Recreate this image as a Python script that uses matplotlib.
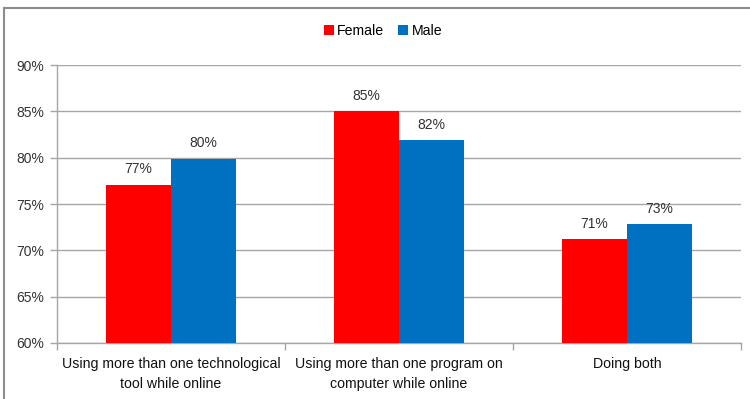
import matplotlib
matplotlib.use("Agg")
import matplotlib.pyplot as plt
from matplotlib.lines import Line2D
from matplotlib.ticker import FixedLocator, FuncFormatter

plt.rcParams['font.family'] = ['Liberation Sans', 'DejaVu Sans']

categories = ["Using more than one technological\ntool while online",
              "Using more than one program on\ncomputer while online",
              "Doing both"]
female = [77.1, 85.0, 71.2]
male = [79.9, 81.9, 72.8]
female_labels = ["77%", "85%", "71%"]
male_labels = ["80%", "82%", "73%"]
series_names = ["Female", "Male"]
colors = ["#FF0000", "#0070C0"]
yticks = [60, 65, 70, 75, 80, 85, 90]

W, H = 750, 399
fig = plt.figure(figsize=(W / 100, H / 100), dpi=100)
ax = fig.add_axes([57 / W, 56 / H, 684 / W, 278 / H])

x = list(range(1, len(categories) + 1))
bw = 0.285
b1 = ax.bar([i - bw / 2 for i in x], female, width=bw, color=colors[0], label=series_names[0], zorder=3)
b2 = ax.bar([i + bw / 2 for i in x], male, width=bw, color=colors[1], label=series_names[1], zorder=3)

ax.set_xlim(0.5, len(categories) + 0.5)
ax.set_ylim(60, 90)
ax.set_yticks(yticks)
ax.yaxis.set_major_formatter(FuncFormatter(lambda v, p: f"{v:.0f}%"))
ax.yaxis.grid(True, color="#A6A6A6", linewidth=1.0, zorder=0)
ax.set_axisbelow(True)

ax.set_xticks(x)
ax.set_xticklabels(categories, fontsize=10.2, color="#111111", linespacing=1.55)
ax.xaxis.set_minor_locator(FixedLocator([i + 0.5 for i in range(len(categories) + 1)]))
ax.tick_params(axis="x", which="major", length=0, pad=10)
ax.tick_params(axis="x", which="minor", length=5, color="#A6A6A6", width=1)
ax.tick_params(axis="y", length=5, color="#A6A6A6", width=1, labelsize=10, labelcolor="#333333", pad=4)

for s in ["top", "right"]:
    ax.spines[s].set_visible(False)
for s in ["left", "bottom"]:
    ax.spines[s].set_color("#A6A6A6")
    ax.spines[s].set_linewidth(1.0)

for bars, labs in ((b1, female_labels), (b2, male_labels)):
    for rect, lab in zip(bars, labs):
        ax.annotate(lab, (rect.get_x() + rect.get_width() / 2, rect.get_height()),
                    xytext=(0, 11), textcoords="offset points", ha="center", va="center",
                    fontsize=10, color="#333333", zorder=4)

leg = fig.legend(handles=[b1, b2], labels=series_names, loc="center", bbox_to_anchor=(383 / W, 1 - 31 / H),
                 ncol=2, frameon=False, fontsize=10.2, handlelength=0.7, handleheight=0.7,
                 handletextpad=0.25, columnspacing=1.0)

# outer chart border (partially cropped)
fig.add_artist(Line2D([3.5 / W, 3.5 / W], [-0.1, 1 - 8 / H], transform=fig.transFigure, color="#8C8C8C", linewidth=1.5))
fig.add_artist(Line2D([3.5 / W, 1.1], [1 - 8 / H, 1 - 8 / H], transform=fig.transFigure, color="#8C8C8C", linewidth=1.5))

fig.savefig("out.png", dpi=100)
